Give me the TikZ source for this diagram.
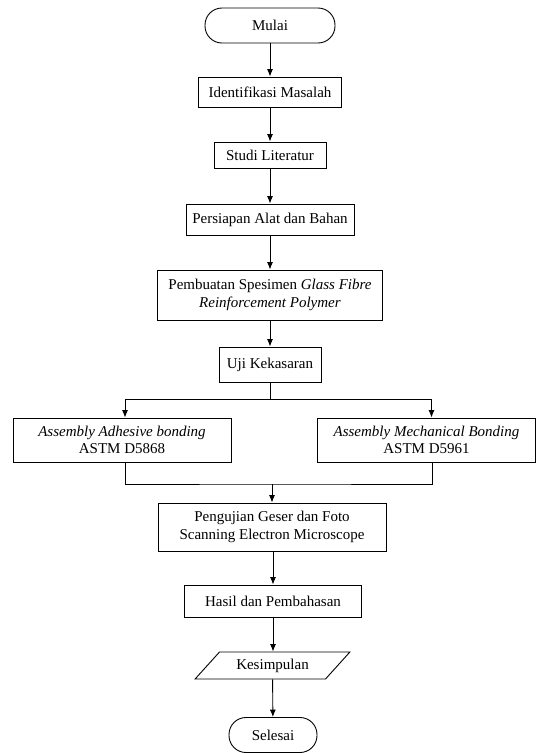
\documentclass[tikz,border=0pt]{standalone}
\usepackage{fontspec}
\setmainfont{Liberation Serif}
\usetikzlibrary{arrows.meta,positioning,shapes.geometric}

\begin{document}
\begin{tikzpicture}[x=1pt, y=-1pt, line width=0.9pt,
    every node/.style={font=\fontsize{15}{17.5}\selectfont, align=center, inner sep=2pt},
    box/.style={draw, rectangle},
    term/.style={draw, rectangle, rounded corners=17pt, minimum height=35pt},
    io/.style={draw, trapezium, trapezium left angle=45, trapezium right angle=135,
      trapezium stretches=true},
    arr/.style={-{Latex[length=7.5pt,width=6pt]}}]
  \useasboundingbox (0,0) rectangle (537,753);
  % main column
  \node[term, minimum width=130pt] (mulai) at (270,25.5) {Mulai};
  \node[box, minimum width=143pt, minimum height=30pt] (ident) at (270,92) {Identifikasi Masalah};
  \node[box, minimum width=112pt, minimum height=26pt] (studi) at (270,155) {Studi Literatur};
  \node[box, minimum width=168pt, minimum height=31pt] (siap) at (270,219.5) {Persiapan Alat dan Bahan};
  \node[box, minimum width=225pt, minimum height=50pt] (buat) at (270,295)
    {Pembuatan Spesimen \textit{Glass Fibre}\\\textit{Reinforcement Polymer}};
  \node[box, minimum width=102pt, minimum height=35pt] (uji) at (270,364.5) {Uji Kekasaran};
  % two assembly branches
  \node[box, minimum width=218pt, minimum height=44pt] (adh) at (122,440)
    {\textit{Assembly Adhesive bonding}\\ASTM D5868};
  \node[box, minimum width=218pt, minimum height=44pt] (mech) at (426.5,440)
    {\textit{Assembly Mechanical Bonding}\\ASTM D5961};
  \node[box, minimum width=228pt, minimum height=48pt] (geser) at (272,527)
    {Pengujian Geser dan Foto\\Scanning Electron Microscope};
  \node[box, minimum width=177pt, minimum height=32pt] (hasil) at (273,601) {Hasil dan Pembahasan};
  \node[io, minimum width=155pt, minimum height=27pt] (simpul) at (272.5,665.5) {Kesimpulan};
  \node[term, minimum width=88pt] (selesai) at (273,735) {Selesai};
  \coordinate (split) at (270,399);
  \coordinate (join) at (272,484);
  % connectors
  \draw[arr] (mulai) -- (ident);
  \draw[arr] (ident) -- (studi);
  \draw[arr] (studi) -- (siap);
  \draw[arr] (siap) -- (buat);
  \draw[arr] (buat) -- (uji);
  \draw (uji) -- (split);
  \draw[arr] (split) -| ([xshift=3pt]adh.north);
  \draw[arr] (split) -| ([xshift=5pt]mech.north);
  \draw ([xshift=3pt]adh.south) |- (join) -| ([xshift=6pt]mech.south);
  \draw[arr] (join) -- (geser);
  \draw[arr] (geser.south -| hasil.north) -- (hasil);
  \draw[arr] (hasil.south) -- (hasil.south |- simpul.north);
  \draw[arr] (simpul) -- (selesai);
\end{tikzpicture}
\end{document}
